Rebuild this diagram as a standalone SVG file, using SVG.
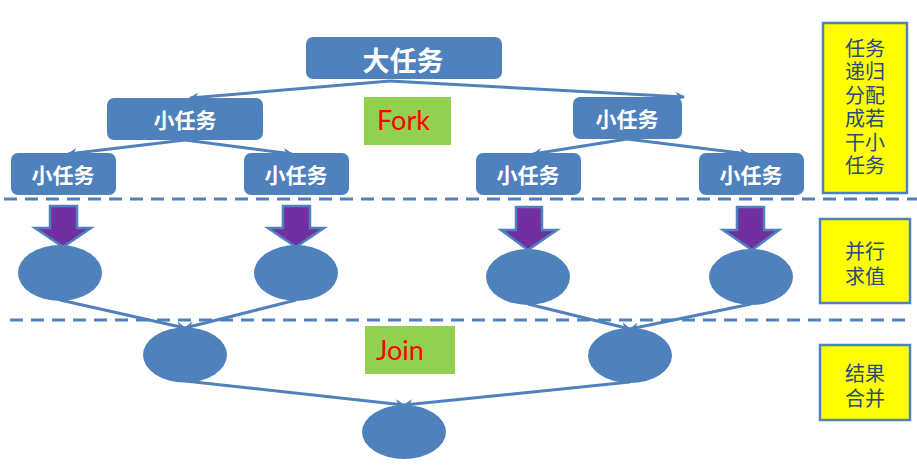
<svg xmlns="http://www.w3.org/2000/svg" width="917" height="469" viewBox="0 0 917 469">
<defs>
<style>
.task{fill:#4f81bd;}
.tt{fill:#ffffff;font-family:"Noto Sans CJK SC","Noto Sans",sans-serif;font-weight:bold;text-anchor:middle;dominant-baseline:central;}
.conn{stroke:#4f81bd;stroke-width:3;fill:none;}
.dash{stroke:#4f81bd;stroke-width:3;stroke-dasharray:13 8;fill:none;}
.node{fill:#4f81bd;}
.parr{fill:#7030a0;stroke:#4f81bd;stroke-width:2.5;stroke-linejoin:miter;}
.note{fill:#ffff00;stroke:#4f81bd;stroke-width:2.5;}
.nt{fill:#2a4a78;font-family:"Noto Sans CJK SC",sans-serif;font-size:20px;text-anchor:middle;dominant-baseline:central;}
.lab{fill:#92d050;}
.lt{fill:#ff0000;font-family:Lato,"Liberation Sans",sans-serif;font-size:27px;}
</style>
<marker id="ah" viewBox="0 0 10 10" refX="9" refY="5" markerWidth="3.2" markerHeight="3.2" orient="auto" markerUnits="strokeWidth">
<path d="M0,0 L10,5 L0,10 L3,5 Z" fill="#4f81bd"/>
</marker>
</defs>

<g id="connectors">
<line class="conn" x1="390" y1="81" x2="190" y2="98" marker-end="url(#ah)"/>
<line class="conn" x1="390" y1="81" x2="684" y2="97" marker-end="url(#ah)"/>
<line class="conn" x1="185" y1="140" x2="68" y2="154" marker-end="url(#ah)"/>
<line class="conn" x1="185" y1="140" x2="292" y2="154" marker-end="url(#ah)"/>
<line class="conn" x1="627" y1="139" x2="533" y2="154" marker-end="url(#ah)"/>
<line class="conn" x1="627" y1="139" x2="748" y2="154" marker-end="url(#ah)"/>
<line class="conn" x1="60" y1="300" x2="185" y2="328" marker-end="url(#ah)"/>
<line class="conn" x1="296" y1="300" x2="185" y2="328" marker-end="url(#ah)"/>
<line class="conn" x1="528" y1="304" x2="630" y2="329" marker-end="url(#ah)"/>
<line class="conn" x1="751" y1="304" x2="630" y2="329" marker-end="url(#ah)"/>
<line class="conn" x1="185" y1="381" x2="404" y2="405" marker-end="url(#ah)"/>
<line class="conn" x1="630" y1="382" x2="404" y2="405" marker-end="url(#ah)"/>
</g>

<g id="separators">
<line class="dash" x1="4" y1="199" x2="917" y2="199"/>
<line class="dash" x1="10" y1="320" x2="912" y2="320"/>
</g>

<g id="big-task">
<rect class="task" x="306" y="37" width="196" height="42" rx="7"/>
<text class="tt" x="403" y="59" font-size="27">大任务</text>
</g>
<g id="task-l">
<rect class="task" x="107" y="98" width="156" height="42" rx="7"/>
<text class="tt" x="185" y="119" font-size="21">小任务</text>
</g>
<g id="task-r">
<rect class="task" x="573" y="97" width="109" height="42" rx="7"/>
<text class="tt" x="627" y="118" font-size="21">小任务</text>
</g>
<g id="task-ll">
<rect class="task" x="11" y="153" width="105" height="42" rx="7"/>
<text class="tt" x="63" y="174" font-size="21">小任务</text>
</g>
<g id="task-lr">
<rect class="task" x="244" y="153" width="105" height="42" rx="7"/>
<text class="tt" x="296" y="174" font-size="21">小任务</text>
</g>
<g id="task-rl">
<rect class="task" x="476" y="153" width="105" height="42" rx="7"/>
<text class="tt" x="528" y="174" font-size="21">小任务</text>
</g>
<g id="task-rr">
<rect class="task" x="699" y="153" width="105" height="42" rx="7"/>
<text class="tt" x="751" y="174" font-size="21">小任务</text>
</g>

<g id="fork-label">
<rect class="lab" x="364" y="97" width="87" height="48"/>
<text class="lt" x="377" y="130">Fork</text>
</g>
<g id="join-label">
<rect class="lab" x="365" y="326" width="90" height="48"/>
<text class="lt" x="376" y="360">Join</text>
</g>

<g id="par-arrow-1"><polygon class="parr" points="50,206 77,206 77,228 91,228 63,247 35,228 50,228"/></g>
<g id="par-arrow-2"><polygon class="parr" points="283,206 310,206 310,228 324,228 296,247 268,228 283,228"/></g>
<g id="par-arrow-3"><polygon class="parr" points="516,207 542,207 542,230 557,230 528,250 501,230 516,230"/></g>
<g id="par-arrow-4"><polygon class="parr" points="737,207 764,207 764,230 779,230 752,250 723,230 737,230"/></g>

<g id="n1"><ellipse class="node" cx="60" cy="273" rx="42" ry="28"/></g>
<g id="n2"><ellipse class="node" cx="296" cy="273" rx="42" ry="28"/></g>
<g id="n3"><ellipse class="node" cx="528" cy="277" rx="42" ry="28"/></g>
<g id="n4"><ellipse class="node" cx="751" cy="277" rx="42" ry="28"/></g>
<g id="n5"><ellipse class="node" cx="185" cy="355" rx="42" ry="27.5"/></g>
<g id="n6"><ellipse class="node" cx="630" cy="355.5" rx="42" ry="27.5"/></g>
<g id="n7"><ellipse class="node" cx="404" cy="432" rx="42" ry="27"/></g>

<g id="note-fork">
<rect class="note" x="823" y="23" width="84" height="170"/>
<text class="nt" x="865" y="47">任务</text>
<text class="nt" x="865" y="70.5">递归</text>
<text class="nt" x="865" y="94">分配</text>
<text class="nt" x="865" y="117.5">成若</text>
<text class="nt" x="865" y="141">干小</text>
<text class="nt" x="865" y="164.5">任务</text>
</g>
<g id="note-par">
<rect class="note" x="820" y="219" width="90" height="84"/>
<text class="nt" x="865" y="250">并行</text>
<text class="nt" x="865" y="275">求值</text>
</g>
<g id="note-join">
<rect class="note" x="820" y="345" width="90" height="75"/>
<text class="nt" x="865" y="372">结果</text>
<text class="nt" x="865" y="397">合并</text>
</g>
</svg>
